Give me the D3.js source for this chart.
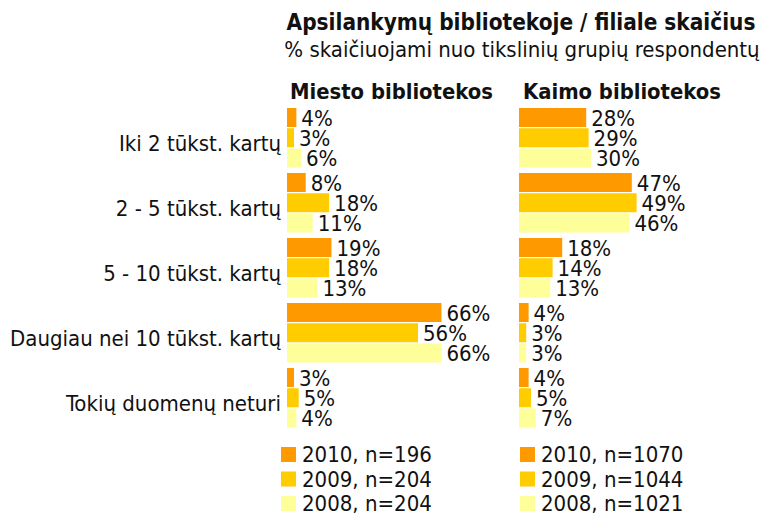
<!DOCTYPE html>
<html>
<head>
<meta charset="utf-8">
<script src="https://cdn.jsdelivr.net/npm/d3@7"></script>
<style>
  body { margin: 0; background: #fff; }
  svg text { font-family: "DejaVu Sans Condensed", "DejaVu Sans", sans-serif; fill: #111; }
</style>
</head>
<body>
<svg id="chart" width="765" height="515"></svg>
<script>
const categories = ["Iki 2 tūkst. kartų", "2 - 5 tūkst. kartų", "5 - 10 tūkst. kartų", "Daugiau nei 10 tūkst. kartų", "Tokių duomenų neturi"];
const years = ["2010", "2009", "2008"];
const city2010 = [4, 8, 19, 66, 3];
const city2009 = [3, 18, 18, 56, 5];
const city2008 = [6, 11, 13, 66, 4];
const rural2010 = [28, 47, 18, 4, 4];
const rural2009 = [29, 49, 14, 3, 5];
const rural2008 = [30, 46, 13, 3, 7];
const cityN = [196, 204, 204];
const ruralN = [1070, 1044, 1021];

const colors = { "2010": "#FF9900", "2009": "#FFCC00", "2008": "#FFFF99" };

const svg = d3.select("#chart");

// titles
svg.append("text")
    .attr("x", 521).attr("y", 30)
    .attr("text-anchor", "middle")
    .style("font-weight", "bold").style("font-size", "22.4px")
    .text("Apsilankymų bibliotekoje / filiale skaičius");
svg.append("text")
    .attr("x", 522).attr("y", 57)
    .attr("text-anchor", "middle")
    .style("font-size", "22px")
    .text("% skaičiuojami nuo tikslinių grupių respondentų");

const y = d3.scaleBand().domain(categories).range([108, 427.5]).paddingInner(0.0846);
const ySub = d3.scaleBand().domain(years).range([0, y.bandwidth()]).paddingInner(0.06);

// category labels
svg.append("g").selectAll("text")
    .data(categories)
    .enter().append("text")
    .attr("x", 281)
    .attr("y", d => y(d) + y.bandwidth() / 2 + 13)
    .attr("text-anchor", "end")
    .style("font-size", "22px")
    .text(d => d);

const panels = [
    { title: "Miesto bibliotekos", x0: 287, pxPerPct: 2.34, series: [city2010, city2009, city2008], n: cityN, titleX: 290, legendX: 281 },
    { title: "Kaimo bibliotekos", x0: 519, pxPerPct: 2.40, series: [rural2010, rural2009, rural2008], n: ruralN, titleX: 523, legendX: 520 }
];

panels.forEach(p => {
    const x = d3.scaleLinear().domain([0, 100]).range([p.x0, p.x0 + 100 * p.pxPerPct]);
    const g = svg.append("g");

    g.append("text")
        .attr("x", p.titleX).attr("y", 99)
        .style("font-weight", "bold").style("font-size", "21.8px")
        .text(p.title);

    const rows = [];
    categories.forEach((c, i) => {
        years.forEach((yr, j) => rows.push({ cat: c, year: yr, value: p.series[j][i] }));
    });

    g.selectAll("rect.bar")
        .data(rows)
        .enter().append("rect")
        .attr("class", "bar")
        .attr("x", x(0))
        .attr("y", d => y(d.cat) + ySub(d.year))
        .attr("width", d => x(d.value) - x(0))
        .attr("height", ySub.bandwidth())
        .attr("fill", d => colors[d.year]);

    g.selectAll("text.val")
        .data(rows)
        .enter().append("text")
        .attr("class", "val")
        .attr("x", d => x(d.value) + 5)
        .attr("y", d => y(d.cat) + ySub(d.year) + ySub.bandwidth() / 2 + 8)
        .style("font-size", "22px")
        .text(d => d.value + "%");

    // legend
    const leg = g.selectAll("g.leg")
        .data(years)
        .enter().append("g")
        .attr("class", "leg")
        .attr("transform", (d, i) => `translate(${p.legendX},${447 + i * 24.5})`);
    leg.append("rect")
        .attr("width", 15).attr("height", 15)
        .attr("fill", d => colors[d]);
    leg.append("text")
        .attr("x", 21).attr("y", 15)
        .style("font-size", "22px")
        .text((d, i) => `${d}, n=${p.n[i]}`);
});
</script>
</body>
</html>
